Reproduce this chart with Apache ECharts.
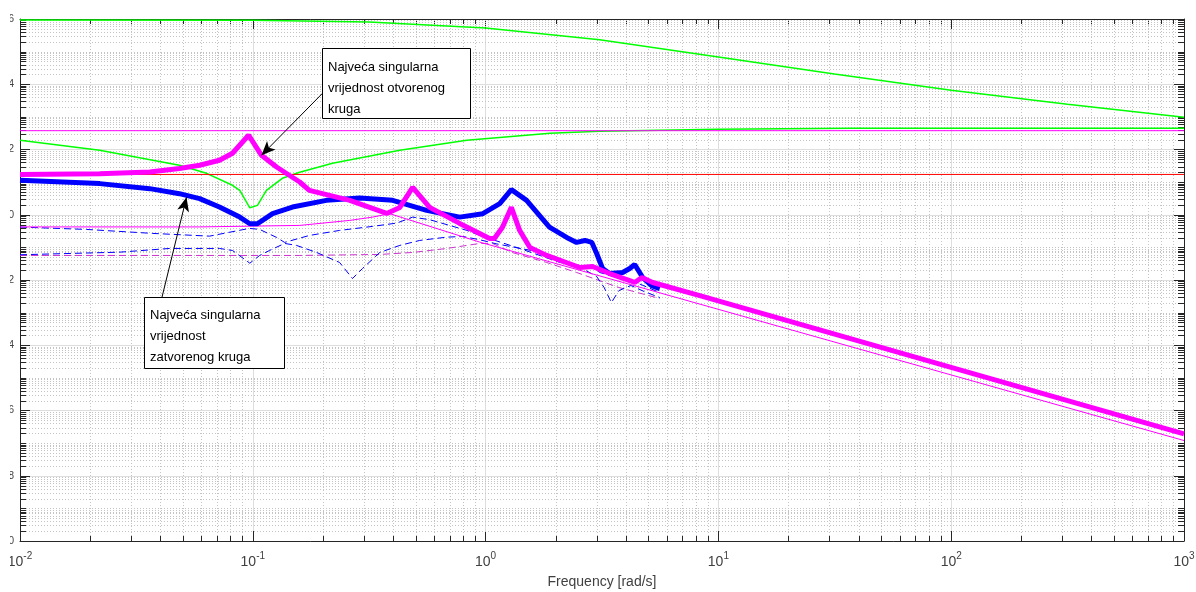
<!DOCTYPE html>
<html><head><meta charset="utf-8">
<script src="https://cdn.jsdelivr.net/npm/echarts@6/dist/echarts.min.js"></script>
<style>html,body{margin:0;padding:0;background:#fff}#c{width:1196px;height:592px}</style>
</head><body><div id="c"></div>
<script>
// ---- data (frequency in rad/s, singular value magnitude) ----
const freqGreenHi = [0.01, 0.1, 0.316, 1, 3.09, 10, 31.5, 100, 316, 1000];
const magGreenHi  = [9.3e5, 9.1e5, 8.1e5, 5.3e5, 2.3e5, 6.8e4, 2.05e4, 6.6e3, 2.45e3, 980];

const freqGreenLo = [0.01, 0.022, 0.0484, 0.0633, 0.0818, 0.0879, 0.0971, 0.1047, 0.1144, 0.1339, 0.159, 0.22, 0.428, 0.83, 1.89, 3.09, 10, 36.7, 1000];
const magGreenLo  = [192, 95, 32.8, 18.6, 8.0, 5.6, 1.63, 1.94, 5.6, 13.1, 20, 37.8, 94.8, 192, 315, 363, 419, 449, 449];

const freqHoriz = [0.01, 1000];
const magMagentaHoriz = [377, 377];
const magRedHoriz = [17.2, 17.2];

const freqMagThick = [0.01, 0.022, 0.0361, 0.0484, 0.0591, 0.0719, 0.0818, 0.0959, 0.109, 0.1265, 0.159, 0.175, 0.261, 0.376, 0.428, 0.486, 0.575, 0.774, 1.04, 1.09, 1.18, 1.29, 1.40, 1.55, 1.83, 2.54, 2.88, 3.41, 4.16, 4.37, 4.69, 5.22, 8.32, 1000];
const magMagThick  = [17.2, 18.2, 20.4, 26.0, 32.8, 46.8, 76.7, 274, 66.5, 29.1, 10.1, 5.6, 2.76, 1.10, 1.68, 6.92, 1.68, 0.543, 0.188, 0.188, 0.409, 1.68, 0.331, 0.0993, 0.0565, 0.0242, 0.0259, 0.0158, 0.00964, 0.00837, 0.0119, 0.00837, 0.00334, 1.93e-7];

const freqBlueThick = [0.01, 0.022, 0.0361, 0.0484, 0.0591, 0.0719, 0.0879, 0.0971, 0.1047, 0.1216, 0.148, 0.207, 0.288, 0.399, 0.558, 0.774, 0.973, 1.15, 1.29, 1.50, 1.88, 2.23, 2.46, 2.67, 2.86, 3.00, 3.18, 3.41, 3.88, 4.16, 4.37, 4.73, 5.17, 5.60];
const magBlueThick  = [11.4, 9.0, 6.31, 4.43, 3.11, 1.72, 0.847, 0.531, 0.531, 1.08, 1.72, 2.76, 3.25, 2.76, 1.36, 0.847, 1.08, 2.19, 5.89, 2.76, 0.418, 0.202, 0.142, 0.163, 0.142, 0.065, 0.0225, 0.0158, 0.0170, 0.0225, 0.0299, 0.0119, 0.00676, 0.00547];

const freqMagThin = [0.01, 0.0591, 0.159, 0.261, 0.327, 0.387, 0.944, 1000];
const magMagThin  = [0.424, 0.424, 0.471, 0.671, 0.847, 1.08, 0.145, 1.2e-7];

const freqBlueDash2 = [0.01, 0.0193, 0.0372, 0.0652, 0.0904, 0.0971, 0.107, 0.1265, 0.137, 0.175, 0.236, 0.327, 0.415, 0.486, 0.575, 0.832, 0.944, 1.40, 2.09, 2.54, 2.86, 3.09, 4.65, 5.60];
const magBlueDash2  = [0.419, 0.355, 0.268, 0.221, 0.348, 0.381, 0.355, 0.202, 0.142, 0.232, 0.331, 0.440, 0.555, 0.847, 0.705, 0.331, 0.232, 0.0927, 0.0344, 0.0279, 0.0259, 0.0170, 0.00726, 0.00412];

const freqBlueDash3 = [0.01, 0.0268, 0.0439, 0.0719, 0.0818, 0.0971, 0.107, 0.118, 0.137, 0.154, 0.188, 0.236, 0.268, 0.296, 0.351, 0.428, 0.521, 0.681, 0.798, 0.944, 1.11, 1.71, 2.54, 3.00, 3.23, 3.47, 3.74, 4.21, 4.80, 5.60];
const magBlueDash3  = [0.0594, 0.0713, 0.0927, 0.0927, 0.0804, 0.0327, 0.0565, 0.0804, 0.132, 0.115, 0.0698, 0.0344, 0.0111, 0.0225, 0.0698, 0.115, 0.163, 0.206, 0.216, 0.171, 0.129, 0.0713, 0.0247, 0.0128, 0.00588, 0.00203, 0.00475, 0.00678, 0.00443, 0.0029];

const freqMagDash = [0.01, 0.159, 0.351, 0.486, 0.681, 0.944, 1.07, 1.30, 1.83, 2.46, 3.74, 5.60];
const magMagDash  = [0.0565, 0.0565, 0.0607, 0.0698, 0.0927, 0.132, 0.132, 0.0698, 0.0344, 0.0170, 0.00588, 0.0027];

// annotations: [text lines], arrow from -> to in data coordinates
const annOpenText = ['Najveća singularna', 'vrijednost otvorenog', 'kruga'];
const annOpenArrow = [[0.1995, 5330], [0.109, 66.5]];
const annClosedText = ['Najveća singularna', 'vrijednost', 'zatvorenog kruga'];
const annClosedArrow = [[0.0407, 0.0029], [0.0519, 3.41]];

const xAxisTitle = 'Frequency [rad/s]';
const xMin = 0.01, xMax = 1000, yMin = 1e-10, yMax = 1e6;

// ---- helpers ----
const pairs = (f, m) => f.map((v, i) => [v, m[i]]);
const FONT = 'Liberation Sans, Arial, Helvetica, sans-serif';
const TXT = '#404040';
const AX = '#262626';

const minorX = [];
for (let d = -2; d < 3; d++) for (let m = 2; m <= 9; m++) minorX.push(m * Math.pow(10, d));
const minorY = [];
for (let d = -10; d < 6; d++) {
  if (d % 2 !== 0) minorY.push(Math.pow(10, d));
  for (let m = 2; m <= 9; m++) minorY.push(m * Math.pow(10, d));
}

function supLabel(v) {
  const e = Math.round(Math.log10(v));
  return '{b|10}{s|' + e + '}';
}

const lineS = (name, f, m, color, width, type, z) => ({
  name, type: 'line', data: pairs(f, m), showSymbol: false, symbol: 'none',
  lineStyle: { color, width, type: type || 'solid' }, z: z || 2, silent: true, clip: true
});

const chart = echarts.init(document.getElementById('c'), null, { renderer: 'canvas' });

const option = {
  animation: false,
  backgroundColor: '#fff',
  grid: { left: 20, right: 12, top: 19, bottom: 51, containLabel: false, outerBoundsMode: 'none' },
  xAxis: [{
    type: 'log', logBase: 10, min: xMin, max: xMax, position: 'bottom',
    axisLine: { show: true, onZero: false, lineStyle: { color: AX, width: 1 } },
    axisTick: { show: true, inside: true, length: 10, lineStyle: { color: AX } },
    splitLine: { show: true, lineStyle: { color: '#dedede', width: 1 } },
    axisLabel: {
      margin: 10, formatter: supLabel,
      rich: {
        b: { fontSize: 14, fontFamily: FONT, color: TXT, lineHeight: 22 },
        s: { fontSize: 10, fontFamily: FONT, color: TXT, lineHeight: 10, verticalAlign: 'top' }
      }
    },
    name: xAxisTitle, nameLocation: 'middle', nameGap: 34,
    nameTextStyle: { fontSize: 14, fontFamily: FONT, color: TXT }
  }, {
    type: 'log', logBase: 10, min: xMin, max: xMax, position: 'top',
    axisLine: { show: true, onZero: false, lineStyle: { color: AX, width: 1 } },
    axisTick: { show: true, inside: true, length: 10, lineStyle: { color: AX } },
    splitLine: { show: false }, axisLabel: { show: false }
  }],
  yAxis: [{
    type: 'log', logBase: 10, min: yMin, max: yMax, interval: 2, position: 'left',
    axisLine: { show: true, onZero: false, lineStyle: { color: AX, width: 1 } },
    axisTick: { show: true, inside: true, length: 10, lineStyle: { color: AX } },
    splitLine: { show: true, lineStyle: { color: '#dedede', width: 1 } },
    axisLabel: {
      margin: 6, formatter: supLabel,
      rich: {
        b: { fontSize: 14, fontFamily: FONT, color: TXT, lineHeight: 16 },
        s: { fontSize: 10, fontFamily: FONT, color: TXT, lineHeight: 14, verticalAlign: 'middle' }
      }
    }
  }, {
    type: 'log', logBase: 10, min: yMin, max: yMax, interval: 2, position: 'right',
    axisLine: { show: true, onZero: false, lineStyle: { color: AX, width: 1 } },
    axisTick: { show: true, inside: true, length: 10, lineStyle: { color: AX } },
    splitLine: { show: false }, axisLabel: { show: false }
  }],
  graphic: [
    { type: 'rect', left: 0, top: 0, shape: { width: 10, height: 592 }, style: { fill: '#fff' }, z: 100, silent: true },
    { type: 'rect', left: 322, top: 48, z: 50, silent: true, shape: { width: 148, height: 70 }, style: { fill: '#fff', stroke: '#000', lineWidth: 1 } },
    { type: 'text', left: 328, top: 57, z: 51, silent: true, style: { text: annOpenText.join('\n'), font: '13px ' + FONT, fill: '#000', lineHeight: 21 } },
    { type: 'rect', left: 144, top: 297, z: 50, silent: true, shape: { width: 140, height: 71 }, style: { fill: '#fff', stroke: '#000', lineWidth: 1 } },
    { type: 'text', left: 150, top: 305, z: 51, silent: true, style: { text: annClosedText.join('\n'), font: '13px ' + FONT, fill: '#000', lineHeight: 21 } }
  ],
  series: [
    {
      type: 'custom', silent: true, clip: false, z: 1, data: [[1, 1]],
      renderItem: function (params, api) {
        const cs = params.coordSys;
        const L = cs.x, T = cs.y, R = cs.x + cs.width, B = cs.y + cs.height;
        const els = [];
        minorX.forEach(v => {
          const px = Math.round(api.coord([v, 1])[0]) + 0.5;
          els.push({ type: 'line', shape: { x1: px, y1: T, x2: px, y2: B }, style: { stroke: '#c4c4c4', lineWidth: 1, lineDash: [1, 2] } });
          els.push({ type: 'line', shape: { x1: px, y1: B, x2: px, y2: B - 5 }, style: { stroke: AX, lineWidth: 1 } });
          els.push({ type: 'line', shape: { x1: px, y1: T, x2: px, y2: T + 5 }, style: { stroke: AX, lineWidth: 1 } });
        });
        minorY.forEach(v => {
          const py = Math.round(api.coord([1, v])[1]) + 0.5;
          els.push({ type: 'line', shape: { x1: L, y1: py, x2: R, y2: py }, style: { stroke: '#c4c4c4', lineWidth: 1, lineDash: [1, 2] } });
          els.push({ type: 'line', shape: { x1: L, y1: py, x2: L + 6, y2: py }, style: { stroke: AX, lineWidth: 1 } });
          els.push({ type: 'line', shape: { x1: R, y1: py, x2: R - 6, y2: py }, style: { stroke: AX, lineWidth: 1 } });
        });
        return { type: 'group', children: els };
      }
    },
    lineS('greenHi', freqGreenHi, magGreenHi, '#00ff00', 1.5),
    lineS('greenLo', freqGreenLo, magGreenLo, '#00ff00', 1.5),
    lineS('magHoriz', freqHoriz, magMagentaHoriz, '#ff00ff', 1),
    lineS('redHoriz', freqHoriz, magRedHoriz, '#ff0000', 1),
    lineS('magDash', freqMagDash, magMagDash, '#cc33cc', 1, [7, 4]),
    lineS('blueDash3', freqBlueDash3, magBlueDash3, '#0000ff', 1, [7, 4]),
    lineS('blueDash2', freqBlueDash2, magBlueDash2, '#0000ff', 1, [7, 4]),
    lineS('magThin', freqMagThin, magMagThin, '#ff00ff', 1),
    lineS('blueThick', freqBlueThick, magBlueThick, '#0000ff', 5, null, 3),
    lineS('magThick', freqMagThick, magMagThick, '#ff00ff', 5, null, 4),
    {
      type: 'line', data: [], z: 10, silent: true,
      markLine: {
        silent: true, animation: false, symbol: ['none', 'arrow'], symbolSize: [9, 14],
        label: { show: false },
        lineStyle: { color: '#000', width: 1, type: 'solid' },
        data: [
          [{ coord: annOpenArrow[0] }, { coord: annOpenArrow[1] }],
          [{ coord: annClosedArrow[0] }, { coord: annClosedArrow[1] }]
        ]
      }
    }
  ]
};
chart.setOption(option);
</script></body></html>
